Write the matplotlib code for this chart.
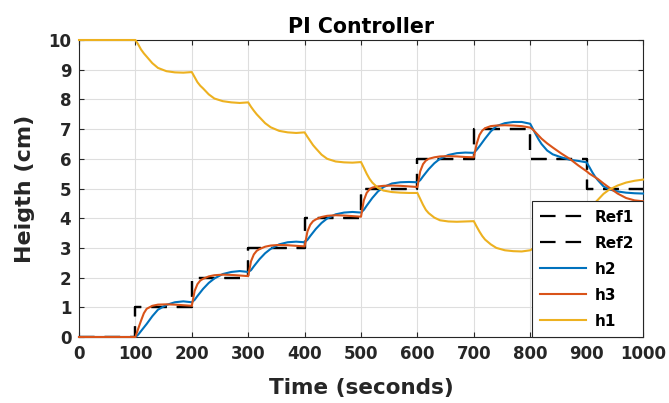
import matplotlib
matplotlib.use("Agg")
import matplotlib.pyplot as plt

# sample times (s)
t = [0, 5, 10, 15, 20, 30, 40, 55, 70, 85,
     100, 105, 110, 115, 120, 130, 140, 155, 170, 185,
     200, 205, 210, 215, 220, 230, 240, 255, 270, 285,
     300, 305, 310, 315, 320, 330, 340, 355, 370, 385,
     400, 405, 410, 415, 420, 430, 440, 455, 470, 485,
     500, 505, 510, 515, 520, 530, 540, 555, 570, 585,
     600, 605, 610, 615, 620, 630, 640, 655, 670, 685,
     700, 705, 710, 715, 720, 730, 740, 755, 770, 785,
     800, 805, 810, 815, 820, 830, 840, 855, 870, 885,
     900, 905, 910, 915, 920, 930, 940, 955, 970, 985,
     1000]

h2 = [0, 0, 0, 0, 0, 0, 0, 0, 0, 0,
      0.00, 0.08, 0.20, 0.32, 0.44, 0.70, 0.92, 1.08, 1.17, 1.20,
      1.17, 1.25, 1.38, 1.50, 1.62, 1.82, 1.97, 2.12, 2.19, 2.22,
      2.19, 2.25, 2.38, 2.50, 2.62, 2.82, 2.97, 3.12, 3.19, 3.21,
      3.19, 3.27, 3.40, 3.52, 3.64, 3.84, 3.99, 4.13, 4.19, 4.21,
      4.19, 4.28, 4.42, 4.55, 4.68, 4.90, 5.05, 5.17, 5.21, 5.22,
      5.21, 5.28, 5.41, 5.53, 5.65, 5.85, 6.00, 6.13, 6.19, 6.21,
      6.20, 6.30, 6.42, 6.55, 6.68, 6.92, 7.10, 7.20, 7.24, 7.24,
      7.18, 7.00, 6.82, 6.65, 6.50, 6.28, 6.15, 6.05, 5.97, 5.93,
      5.88, 5.72, 5.55, 5.40, 5.28, 5.07, 4.97, 4.90, 4.86, 4.84,
      4.83]

h3 = [0, 0, 0, 0, 0, 0, 0, 0, 0, 0,
      0.00, 0.28, 0.55, 0.80, 0.95, 1.05, 1.09, 1.10, 1.09, 1.07,
      1.05, 1.55, 1.78, 1.90, 1.96, 2.04, 2.08, 2.10, 2.09, 2.07,
      2.05, 2.55, 2.78, 2.90, 2.96, 3.04, 3.08, 3.10, 3.09, 3.07,
      3.05, 3.55, 3.78, 3.90, 3.96, 4.04, 4.08, 4.10, 4.09, 4.07,
      4.05, 4.60, 4.85, 4.97, 5.03, 5.07, 5.09, 5.10, 5.09, 5.07,
      5.05, 5.58, 5.82, 5.94, 6.00, 6.05, 6.08, 6.09, 6.08, 6.06,
      6.05, 6.50, 6.80, 6.95, 7.03, 7.10, 7.12, 7.13, 7.12, 7.10,
      7.05, 6.98, 6.88, 6.78, 6.68, 6.52, 6.38, 6.18, 6.00, 5.78,
      5.58, 5.50, 5.44, 5.38, 5.32, 5.17, 5.03, 4.83, 4.68, 4.60,
      4.57]

h1 = [10, 10, 10, 10, 10, 10, 10, 10, 10, 10,
      10.0, 9.85, 9.68, 9.55, 9.44, 9.22, 9.06, 8.95, 8.91, 8.90,
      8.92, 8.75, 8.58, 8.46, 8.37, 8.17, 8.03, 7.94, 7.90, 7.88,
      7.90, 7.75, 7.62, 7.50, 7.40, 7.20, 7.06, 6.94, 6.89, 6.87,
      6.89, 6.74, 6.60, 6.46, 6.35, 6.14, 6.00, 5.91, 5.88, 5.87,
      5.89, 5.70, 5.50, 5.33, 5.20, 5.02, 4.93, 4.88, 4.86, 4.85,
      4.85, 4.65, 4.45, 4.28, 4.17, 4.02, 3.93, 3.89, 3.88, 3.89,
      3.90, 3.72, 3.55, 3.40, 3.28, 3.12, 3.00, 2.92, 2.89, 2.88,
      2.92, 2.98, 3.06, 3.14, 3.22, 3.38, 3.54, 3.77, 3.98, 4.17,
      4.32, 4.38, 4.44, 4.52, 4.62, 4.82, 4.96, 5.10, 5.20, 5.26,
      5.30]

# reference set points (step changes every 100 s)
t_ref = [0, 100, 200, 300, 400, 500, 600, 700, 800, 900, 1000]
ref1 = [0, 1, 2, 3, 4, 5, 6, 7, 6, 5, 5]
ref2 = [0, 1, 2, 3, 4, 5, 6, 7, 6, 5, 5]

plt.rcParams["font.family"] = "DejaVu Sans"
plt.rcParams["font.weight"] = "bold"

fig = plt.figure(figsize=(6.69, 4.03), dpi=100)
ax = fig.add_axes([79 / 669, 66 / 403, 564 / 669, 297 / 403])

dash = (0, (7, 4.5))
ax.plot(t_ref, ref1, color="black", lw=1.6, ls=dash, drawstyle="steps-post", label="Ref1")
ax.plot(t_ref, ref2, color="black", lw=1.6, ls=dash, drawstyle="steps-post", label="Ref2")
ax.plot(t, h2, color="#0072BD", lw=1.5, label="h2", clip_on=False, zorder=3)
ax.plot(t, h3, color="#D95319", lw=1.5, label="h3", clip_on=False, zorder=3)
ax.plot(t, h1, color="#EDB120", lw=1.5, label="h1", clip_on=False, zorder=3)

ax.set_xlim(0, 1000)
ax.set_ylim(0, 10)
ax.set_xticks(range(0, 1001, 100))
ax.set_yticks(range(0, 11))
ax.grid(True, color="#dedede", lw=0.8)
ax.set_axisbelow(True)
ax.tick_params(direction="in", length=3.5, width=0.8, color="#262626",
               top=True, right=True, labelsize=12, pad=5.5, labelcolor="#262626")
for s in ax.spines.values():
    s.set_color("#262626")
    s.set_linewidth(0.8)

ax.set_title("PI Controller", fontsize=14.8, fontweight="bold", pad=5)
ax.set_xlabel("Time (seconds)", fontsize=15.5, fontweight="bold", color="#262626", labelpad=11)
ax.set_ylabel("Heigth (cm)", fontsize=16, fontweight="bold", color="#262626", labelpad=9.5)

leg = ax.legend(loc="lower right", bbox_to_anchor=(1, 0), borderaxespad=0,
                fancybox=False, framealpha=1, edgecolor="#262626",
                fontsize=11, handlelength=3.0, labelspacing=0.72,
                borderpad=0.55, handletextpad=0.6)
leg.get_frame().set_linewidth(0.8)
leg.set_zorder(5)

fig.savefig("out.png", dpi=100)
